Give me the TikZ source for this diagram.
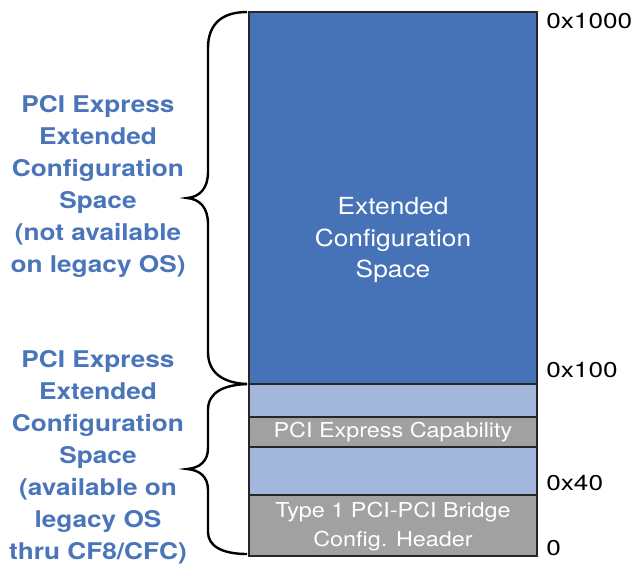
\documentclass[tikz,border=0pt]{standalone}
\usepackage{fontspec}
\setmainfont{TeX Gyre Heros}
\definecolor{dblue}{HTML}{4672B8}
\definecolor{lblue}{HTML}{A3B7DC}
\definecolor{gbox}{HTML}{A1A1A1}
\definecolor{tblue}{HTML}{4B75BA}
\begin{document}
\begin{tikzpicture}[x=1pt,y=-1pt,
  band/.style={draw=black!85, line width=1.6pt},
  sidelbl/.style={text=tblue, font=\bfseries\fontsize{23}{32}\selectfont, align=center, xscale=1.14, inner sep=0pt},
  inlbl/.style={text=white, font=\fontsize{23.5}{31.5}\selectfont, align=center, xscale=1.12, inner sep=0pt},
  smlbl/.style={text=white, font=\fontsize{20.5}{29}\selectfont, align=center, xscale=1.14, inner sep=0pt},
  addr/.style={text=black, font=\fontsize{21.5}{25}\selectfont, anchor=west, xscale=1.22, inner sep=0pt},
  bracepath/.style={draw=black, line width=2.4pt, line join=miter}]
\useasboundingbox (0,0) rectangle (636,563);
% bands
\filldraw[band, fill=dblue] (249,12) rectangle (537,384);
\filldraw[band, fill=lblue] (249,384) rectangle (537,417);
\filldraw[band, fill=gbox] (249,417) rectangle (537,447);
\filldraw[band, fill=lblue] (249,447) rectangle (537,495);
\filldraw[band, fill=gbox] (249,495) rectangle (537,556);
% band texts
\node[inlbl] (ext) at (393,240) {Extended\\Configuration\\Space};
\node[smlbl] (cap) at (393,432) {PCI Express Capability};
\node[smlbl] (hdr) at (393,527) {Type 1 PCI-PCI Bridge\\Config. Header};
% addresses
\node[addr] (a1000) at (546,21) {0x1000};
\node[addr] (a100) at (546,370) {0x100};
\node[addr] (a40) at (546,483) {0x40};
\node[addr] (a0) at (546,548) {0};
% braces
\draw[bracepath] (247,12) .. controls (222,12) and (208,24) .. (208,48) -- (208,172)
  .. controls (208,188) and (200,197) .. (187,198)
  .. controls (200,199) and (208,208) .. (208,224) -- (208,352)
  .. controls (208,372) and (222,383) .. (247,384);
\draw[bracepath] (247,384) .. controls (224,385) and (208,392) .. (208,410) -- (208,448)
  .. controls (208,461) and (200,468) .. (187,469)
  .. controls (200,470) and (208,477) .. (208,490) -- (208,532)
  .. controls (208,546) and (222,554) .. (247,554);
% side labels
\node[sidelbl] (up) at (98,186) {PCI Express\\Extended\\Configuration\\Space\\(not available\\on legacy OS)};
\node[sidelbl] (low) at (98,457) {PCI Express\\Extended\\Configuration\\Space\\(available on\\legacy OS\\thru CF8/CFC)};
\end{tikzpicture}
\end{document}
